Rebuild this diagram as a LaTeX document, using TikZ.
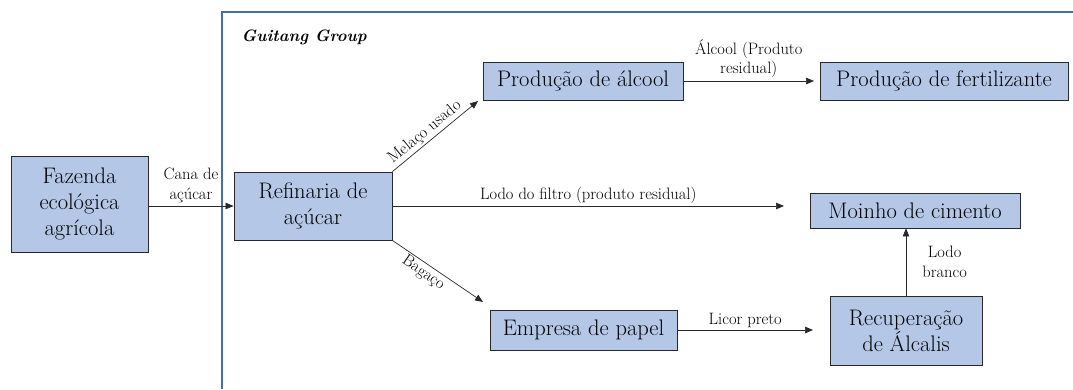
\documentclass[tikz,border=0pt]{standalone}
\usetikzlibrary{arrows.meta}
\definecolor{boxfill}{RGB}{180,199,231}
\definecolor{framecol}{RGB}{65,113,166}
\definecolor{linecol}{RGB}{40,40,40}
\tikzset{
  procbox/.style={draw=linecol, line width=0.9pt, fill=boxfill, inner sep=0pt,
    align=center, font=\fontsize{22.5}{26}\selectfont},
  flow/.style={draw=linecol, line width=0.7pt, -{Triangle[length=8pt,width=6.5pt]}},
  lbl/.style={font=\fontsize{16.5}{19.5}\selectfont, align=center, inner sep=2pt}
}
\begin{document}
\begin{tikzpicture}[x=1pt,y=-1pt]
\useasboundingbox (0,0) rectangle (1073,389);
\draw[framecol, line width=1.8pt] (222,389) -- (222,12) -- (1073,12);
\node[anchor=west, font=\fontsize{16.5}{19}\selectfont\bfseries\itshape] (grp) at (238,37) {Guitang Group};

\node[procbox, minimum width=137pt, minimum height=96pt] (faz) at (79.5,204) {Fazenda\\ecológica\\agrícola};
\node[procbox, minimum width=158pt, minimum height=68pt] (ref) at (313,206) {Refinaria de\\açúcar};
\node[procbox, minimum width=200pt, minimum height=38pt] (alc) at (583,81) {Produção de álcool};
\node[procbox, minimum width=248pt, minimum height=38pt] (fer) at (944,81) {Produção de fertilizante};
\node[procbox, minimum width=210pt, minimum height=35pt] (cim) at (915,210.5) {Moinho de cimento};
\node[procbox, minimum width=187pt, minimum height=40pt] (pap) at (583.5,330) {Empresa de papel};
\node[procbox, minimum width=152pt, minimum height=69pt] (alk) at (906,330.5) {Recuperação\\de Álcalis};

\coordinate (lodoEnd) at (784,206);
\coordinate (melEnd) at (478,101);
\coordinate (bagEnd) at (483,302);
\coordinate (ferIn) at (814,81);
\coordinate (alkIn) at (813,330);

\draw[flow] (faz.east |- ref.west) -- (ref.west) node[lbl, midway, above=1pt] (cana) {Cana de\\açúcar};
\draw[flow] (ref.east) -- (lodoEnd) node[lbl, midway, above] (lodo) {Lodo do filtro (produto residual)};
\draw[flow] (ref.north east) -- (melEnd) node[lbl, pos=0.45, above, sloped] (mel) {Melaço usado};
\draw[flow] (ref.south east) -- (bagEnd) node[lbl, pos=0.4, below, sloped] (bag) {Bagaço};
\draw[flow] (alc.east) -- (ferIn) node[lbl, midway, above=1pt] (alcl) {Álcool (Produto\\residual)};
\draw[flow] (pap.east) -- (alkIn) node[lbl, midway, above] (lic) {Licor preto};
\draw[flow] (alk.north) -- (alk.north |- cim.south) node[lbl, midway, right=14pt] (lb) {Lodo\\branco};
\end{tikzpicture}
\end{document}
